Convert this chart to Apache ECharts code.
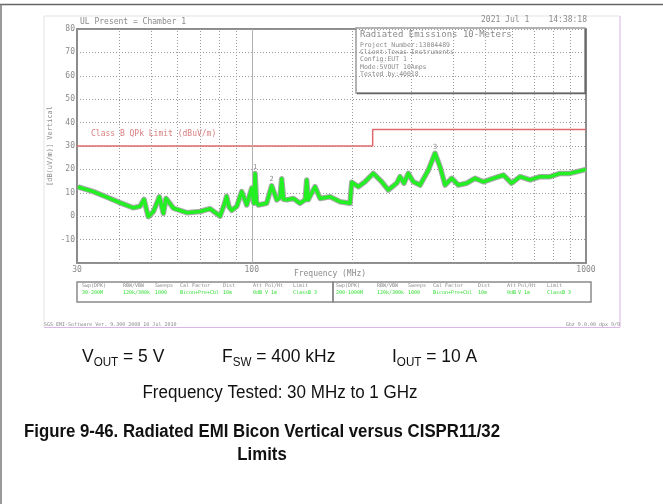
<!DOCTYPE html>
<html>
<head>
<meta charset="utf-8">
<script src="https://cdn.jsdelivr.net/npm/echarts@6/dist/echarts.min.js"></script>
<style>
  html, body { margin: 0; padding: 0; background: #fff; }
  #chart { width: 663px; height: 504px; }
</style>
</head>
<body>
<div id="chart"></div>
<script>
// Measured emission trace (frequency in MHz, level in dB(uV/m))
const emiFreq = [30.2, 33.6, 36.8, 40.3, 44.2, 46.3, 47.6, 49.0, 50.8, 52.9,
  54.4, 55.4, 58.3, 63.9, 70.0, 75.0, 80.4, 82.5, 84.1, 85.5,
  87.1, 90.2, 93.3, 96.6, 100.0, 101.5, 102.3, 103.3, 104.6, 110.8,
  114.7, 118.8, 121.5, 122.9, 124.5, 127.3, 133.2, 139.4, 144.5, 146.0,
  147.5, 149.4, 154.6, 160.1, 171.5, 183.7, 196.8, 199.1, 208.4, 218.2,
  231.0, 244.8, 256.2, 271.4, 277.7, 285.4, 294.0, 304.3, 318.7, 337.5,
  353.4, 365.8, 378.7, 396.5, 415.0, 439.7, 465.5, 492.9, 528.2, 565.9,
  599.4, 634.8, 680.2, 728.8, 780.7, 836.5, 895.6, 981.7, 1000];
const emiLevel = [12.5, 10.5, 8.2, 5.8, 3.6, 4.2, 7.2, -0.2, 2.0, 8.3,
  1.2, 7.6, 3.4, 1.5, 2.0, 3.2, 0.0, 4.5, 8.5, 4.0,
  2.5, 4.2, 10.5, 4.8, 12.0, 5.5, 18.3, 6.0, 4.8, 5.5,
  13.0, 7.0, 8.0, 16.0, 7.2, 7.0, 7.6, 5.5, 7.0, 15.5,
  7.0, 6.8, 12.6, 7.6, 8.3, 6.2, 5.5, 14.5, 12.6, 14.7,
  18.3, 14.7, 11.2, 14.1, 16.9, 14.1, 18.3, 14.7, 13.3, 19.7,
  26.9, 21.2, 13.3, 16.2, 13.3, 14.1, 16.2, 14.7, 16.2, 17.6,
  14.1, 16.9, 15.5, 16.9, 16.9, 18.3, 18.3, 19.7, 20.0];

// CISPR 11/32 Class B limit (step at 230 MHz)
const limitFreq = [30, 230, 230, 1000];
const limitLevel = [30, 30, 37, 37];

// Marked peaks
const peakFreq = [102.3, 114.7, 353.4];
const peakLevel = [18.3, 13.0, 26.9];
const peakNames = ['1', '2', '3'];

// Axis ticks
const yTicks = [80, 70, 60, 50, 40, 30, 20, 10, 0, -10];
const xGridFreq = [40, 50, 60, 70, 80, 90, 200, 300, 400, 500, 600, 700, 800, 900];

// Measurement settings table
const tableLeftHead = ['Swp(DPK)', 'RBW/VBW', 'Sweeps', 'Cal Factor', 'Dist', 'Att', 'Pol/Ht', 'Limit'];
const tableLeftVal = ['30-200M', '120k/300k', '1000', 'Bicon+Pre+Cbl', '10m', '0dB', 'V 1m', 'ClassB 3'];
const tableRightHead = ['Swp(DPK)', 'RBW/VBW', 'Sweeps', 'Cal Factor', 'Dist', 'Att', 'Pol/Ht', 'Limit'];
const tableRightVal = ['200-1000M', '120k/300k', '1000', 'Bicon+Pre+Cbl', '10m', '0dB', 'V 1m', 'ClassB 3'];

const infoLines = ['Project Number:13004489', 'Client:Texas Instruments', 'Config:EUT 1',
  'Mode:5VOUT 10Amps', 'Tested by:40018'];

const mono = '"DejaVu Sans Mono", monospace';
const sans = '"Liberation Sans", Arial, sans-serif';
const gridLeft = 77, gridTop = 29, gridW = 509, gridH = 234;

const chart = echarts.init(document.getElementById('chart'), null, { renderer: 'canvas' });

const emiData = emiFreq.map((f, i) => [f, emiLevel[i]]);
const limitData = limitFreq.map((f, i) => [f, limitLevel[i]]);

const graphics = [];
function line(x1, y1, x2, y2, color, w) {
  graphics.push({ type: 'line', silent: true, shape: { x1, y1, x2, y2 },
    style: { stroke: color, lineWidth: w } });
}
function text(x, y, str, opts, scaleX) {
  graphics.push({ type: 'text', silent: true, x, y, scaleX: scaleX || 1,
    style: Object.assign({ text: str, fill: '#8a8a8a', font: '7px ' + mono,
      textAlign: 'left', textVerticalAlign: 'middle' }, opts || {}) });
}

// Outer document frame
line(0, 4.5, 663, 4.5, '#666', 1.5);
line(1, 4, 1, 504, '#777', 1.5);
// Plot page frame
line(44, 16, 620, 16, '#e4e4e4', 1);
line(44, 16, 44, 327, '#e4e4e4', 1);
line(620, 16, 620, 327, '#dcb6e6', 1);
line(44, 327.5, 620, 327.5, '#dcb6e6', 1);

// Header
text(80, 22, 'UL Present = Chamber 1', { font: '8px ' + mono });
text(587, 20, '2021 Jul 1    14:38:18', { font: '8px ' + mono, textAlign: 'right' });

// Info box
graphics.push({ type: 'rect', silent: true, shape: { x: 356, y: 28, width: 229, height: 65 },
  style: { fill: '#fff', stroke: '#9a9a9a', lineWidth: 1.5 } });
line(357, 93.5, 586, 93.5, '#666', 1.5);
line(585.5, 29, 585.5, 94, '#666', 1.5);
text(360, 35, 'Radiated Emissions 10-Meters', { font: '9px ' + mono });
infoLines.forEach((s, i) => text(360, 45 + i * 7.4, s, { font: '6.5px ' + mono }));

// Limit label and axis names
text(91, 134, 'Class B QPk Limit (dBuV/m)', { font: '8px ' + mono, fill: '#d98080' });
graphics.push({ type: 'text', silent: true, x: 50, y: 146, rotation: Math.PI / 2,
  style: { text: '[dB(uV/m)] Vertical', fill: '#8a8a8a', font: '7px ' + mono,
    textAlign: 'center', textVerticalAlign: 'middle' } });
text(330, 274, 'Frequency (MHz)', { font: '8px ' + mono, textAlign: 'center' });

// Settings table
function table(x0, x1, heads, vals, cols) {
  graphics.push({ type: 'rect', silent: true, shape: { x: x0, y: 282, width: x1 - x0, height: 20 },
    style: { fill: 'none', stroke: '#8a8a8a', lineWidth: 1.5 } });
  heads.forEach((h, i) => {
    text(cols[i], 286, h, { font: '5px ' + mono, fill: '#8a8a8a' });
    text(cols[i], 292.5, vals[i], { font: '5px ' + mono, fill: '#33dd33' });
  });
}
table(77, 333, tableLeftHead, tableLeftVal, [82, 123, 155, 180, 223, 253, 265, 293]);
table(333, 591, tableRightHead, tableRightVal, [336, 377, 408, 433, 478, 507, 518, 547]);

// Footer of the plot page
text(44, 324.5, 'SGS EMI-Software Ver. 9.300 2008 10 Jul 2010', { font: '5px ' + mono });
text(620, 324.5, 'Ghz 9.0.00 dpx 9/9', { font: '5px ' + mono, textAlign: 'right' });

// Operating conditions and caption
const rich = {
  a: { font: '18px ' + sans, fill: '#111', lineHeight: 22, verticalAlign: 'bottom' },
  s: { font: '12px ' + sans, fill: '#111', lineHeight: 22, verticalAlign: 'bottom', padding: [0, 0, -3, 0] }
};
function cond(x, main, sub, rest) {
  graphics.push({ type: 'text', silent: true, x, y: 355, scaleX: 0.97,
    style: { text: '{a|' + main + '}{s|' + sub + '}{a|' + rest + '}', rich,
      textAlign: 'left', textVerticalAlign: 'middle' } });
}
cond(82, 'V', 'OUT', ' = 5 V');
cond(222, 'F', 'SW', ' = 400 kHz');
cond(392, 'I', 'OUT', ' = 10 A');
text(280, 393, 'Frequency Tested: 30 MHz to 1 GHz',
  { font: '18px ' + sans, fill: '#111', textAlign: 'center' }, 0.945);
text(262, 432, 'Figure 9-46. Radiated EMI Bicon Vertical versus CISPR11/32',
  { font: 'bold 18px ' + sans, fill: '#111', textAlign: 'center' }, 0.933);
text(262, 455, 'Limits', { font: 'bold 18px ' + sans, fill: '#111', textAlign: 'center' }, 0.933);

const option = {
  backgroundColor: '#fff',
  animation: false,
  grid: { left: gridLeft, top: gridTop, width: gridW, height: gridH,
    show: true, borderColor: '#8c8c8c', borderWidth: 2, backgroundColor: 'transparent' },
  xAxis: {
    type: 'log', logBase: 10, min: 30, max: 1000,
    axisLine: { show: false }, axisTick: { show: false },
    splitLine: { show: false }, minorSplitLine: { show: false },
    axisLabel: { color: '#8a8a8a', fontFamily: mono, fontSize: 8, margin: 3,
      showMinLabel: true, showMaxLabel: true,
      formatter: v => String(Math.round(v)) }
  },
  yAxis: {
    type: 'value', min: -20, max: 80, interval: 10,
    axisLine: { show: false }, axisTick: { show: false },
    splitLine: { show: true, lineStyle: { color: '#9a9a9a', type: [1, 2], width: 1 } },
    axisLabel: { color: '#8a8a8a', fontFamily: mono, fontSize: 8, margin: 2,
      formatter: v => (yTicks.indexOf(v) >= 0 ? String(v) : '') }
  },
  series: [
    {
      name: 'grid', type: 'line', data: [], silent: true,
      markLine: {
        silent: true, symbol: 'none', animation: false,
        label: { show: false },
        lineStyle: { color: '#9a9a9a', type: [1, 2], width: 1 },
        data: xGridFreq.map(f => ({ xAxis: f })).concat([{ xAxis: 100, lineStyle: { type: 'solid', color: '#b0b0b0' } }])
      }
    },
    {
      name: 'Limit', type: 'line', data: limitData, symbol: 'none', silent: true,
      lineStyle: { color: '#e06a6a', width: 1.5 }, z: 3
    },
    {
      name: 'Outline', type: 'line', data: emiData, symbol: 'none', silent: true,
      lineStyle: { color: '#a8a8a8', width: 5.5, join: 'round' }, z: 4
    },
    {
      name: 'Vertical', type: 'line', data: emiData, symbol: 'none', silent: true,
      lineStyle: { color: '#22f022', width: 3.5, join: 'round' }, z: 5,
      markPoint: {
        silent: true, symbol: 'circle', symbolSize: 0,
        label: { show: true, position: 'top', distance: 3, color: '#8a8a8a',
          fontFamily: mono, fontSize: 7, formatter: p => p.name },
        data: peakFreq.map((f, i) => ({ name: peakNames[i], coord: [f, peakLevel[i]] }))
      }
    }
  ],
  graphic: { elements: graphics }
};

chart.setOption(option);
</script>
</body>
</html>
